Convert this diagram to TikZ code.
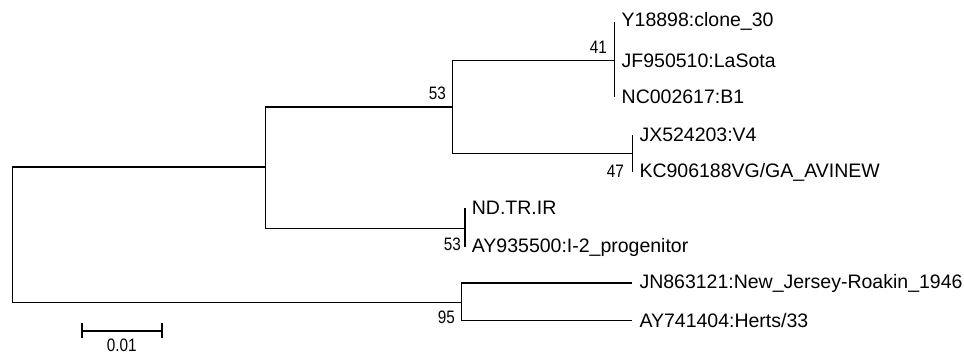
\documentclass[tikz,border=0pt]{standalone}
\usepackage{fontspec}
\setmainfont{Liberation Sans}
\newfontfamily\bootfont[FakeStretch=0.85]{Liberation Sans}
\begin{document}
\begin{tikzpicture}[x=1pt,y=-1pt,
  branch/.style={line width=1.6pt},
  leaf/.style={anchor=west, inner xsep=7pt, inner ysep=0pt, font=\fontsize{19.5}{22}\selectfont},
  boot/.style={anchor=east, inner sep=0pt, font=\bootfont\fontsize{18}{20}\selectfont}]
\useasboundingbox (0,0) rectangle (964,354);
% internal nodes
\coordinate (root) at (12.3,234.6);
\coordinate (n1) at (265.3,167);
\coordinate (n2) at (452.3,106.7);
\coordinate (n3) at (614.5,60.3);
\coordinate (n4) at (632.3,153.3);
\coordinate (n5) at (464.7,228.3);
\coordinate (n6) at (461.5,302.3);
% leaves
\node[leaf] (l1) at (614.5,21.5) {Y18898:clone\_30};
\node[leaf] (l2) at (614.5,60.3) {JF950510:LaSota};
\node[leaf] (l3) at (614.5,97) {NC002617:B1};
\node[leaf] (l4) at (632.3,134.5) {JX524203:V4};
\node[leaf] (l5) at (632.3,172) {KC906188VG/GA\_AVINEW};
\node[leaf] (l6) at (464.7,208) {ND.TR.IR};
\node[leaf] (l7) at (464.7,247) {AY935500:I-2\_progenitor};
\node[leaf] (l8) at (632.3,283) {JN863121:New\_Jersey-Roakin\_1946};
\node[leaf] (l9) at (632.3,320.5) {AY741404:Herts/33};
% branches
\draw[branch] (root) |- (n1);
\draw[branch] (root) |- (n6);
\draw[branch] (n1) |- (n2);
\draw[branch] (n1) |- (n5);
\draw[branch] (n2) |- (n3);
\draw[branch] (n2) |- (n4);
\draw[branch] (n3) |- (l1.west);
\draw[branch] (n3) |- (l3.west);
\draw[branch] (n4) |- (l4.west);
\draw[branch] (n4) |- (l5.west);
\draw[branch] (n5) |- (l6.west);
\draw[branch] (n5) |- (l7.west);
\draw[branch] (n6) |- (l8.west);
\draw[branch] (n6) |- (l9.west);
% bootstrap values
\node[boot] (b41) at (607,47) {41};
\node[boot] (b53a) at (446,93) {53};
\node[boot] (b47) at (624,171) {47};
\node[boot] (b53b) at (461,244) {53};
\node[boot] (b95) at (455,317.5) {95};
% scale bar
\coordinate (s1) at (81.7,330.7);
\coordinate (s2) at (161.7,330.7);
\draw[branch] (s1) -- (s2);
\draw[branch] ([yshift=-7.5pt]s1) -- ([yshift=7.5pt]s1);
\draw[branch] ([yshift=-7.5pt]s2) -- ([yshift=7.5pt]s2);
\node[boot, anchor=center] (sl) at (121.7,345.5) {0.01};
\end{tikzpicture}
\end{document}
